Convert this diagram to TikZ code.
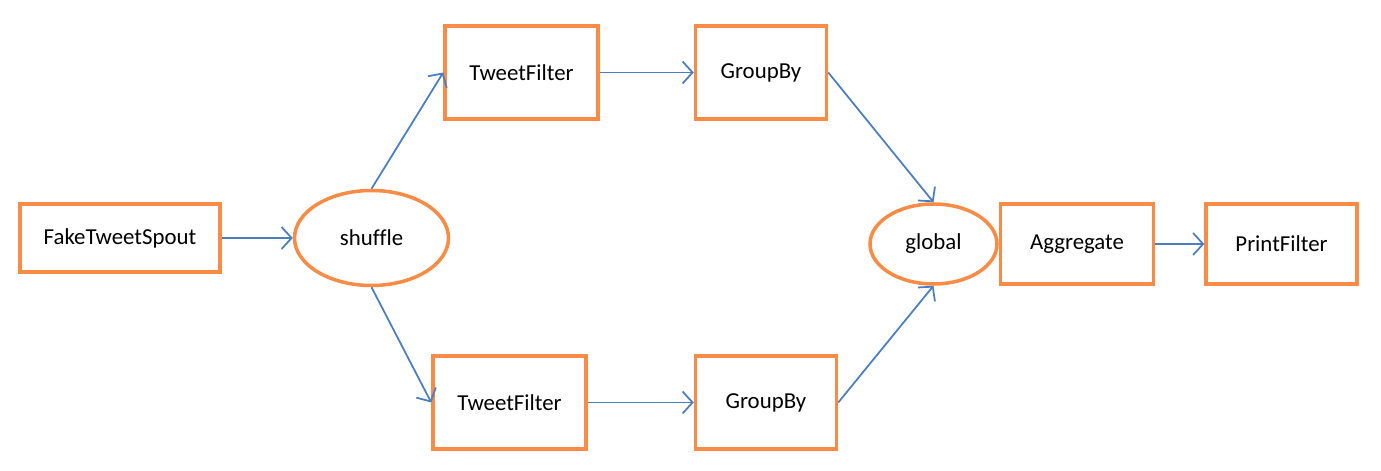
\documentclass[tikz,border=0pt]{standalone}
\usepackage{fontspec}
\setmainfont{Carlito}[Ligatures=CommonOff]
\usetikzlibrary{positioning, arrows.meta, shapes.geometric}
\definecolor{boltorange}{RGB}{248,140,70}
\definecolor{flowblue}{RGB}{74,126,190}

\tikzset{
    bolt/.style={draw=boltorange, line width=2pt, minimum height=1.9cm,
        font=\fontsize{13}{15}\selectfont},
    grouping/.style={bolt, ellipse},
    flow/.style={draw=flowblue, line width=1pt,
        -{Straight Barb[length=2mm, width=4.4mm]}}
}

\begin{document}
\begin{tikzpicture}
        \useasboundingbox (0,0) rectangle (27.62,-9.42);

        \node[bolt, minimum width=4.0cm, minimum height=1.36cm] (spout) at (2.40,-4.76) {FakeTweetSpout};
        \node[grouping, minimum width=3.08cm, minimum height=1.90cm, right=1.42cm of spout] (shuffle) {shuffle};
        \node[bolt, minimum width=3.06cm, minimum height=1.86cm] (tf1) at (10.43,-1.45) {TweetFilter};
        \node[bolt, minimum width=2.62cm, minimum height=1.86cm, right=1.88cm of tf1] (gb1) {GroupBy};
        \node[bolt, minimum width=3.06cm, minimum height=1.86cm] (tf2) at (10.19,-8.05) {TweetFilter};
        \node[bolt, minimum width=2.82cm, minimum height=1.86cm, right=2.12cm of tf2] (gb2) {GroupBy};
        \node[grouping, minimum width=2.54cm, minimum height=1.60cm] (global) at (18.67,-4.88) {global};
        \node[bolt, minimum width=3.06cm, minimum height=1.60cm, right=0pt of global] (agg) {Aggregate};
        \node[bolt, minimum width=3.02cm, minimum height=1.60cm, right=0.98cm of agg] (print) {PrintFilter};

        \draw[flow] (spout) -- (shuffle);
        \draw[flow] (shuffle.north) -- (tf1.west);
        \draw[flow] (shuffle.south) -- (tf2.west);
        \draw[flow] (tf1) -- (gb1);
        \draw[flow] (tf2) -- (gb2);
        \draw[flow] (gb1.east) -- (global.north);
        \draw[flow] (gb2.east) -- (global.south);
        \draw[flow] (agg) -- (print);
    \end{tikzpicture}
\end{document}
